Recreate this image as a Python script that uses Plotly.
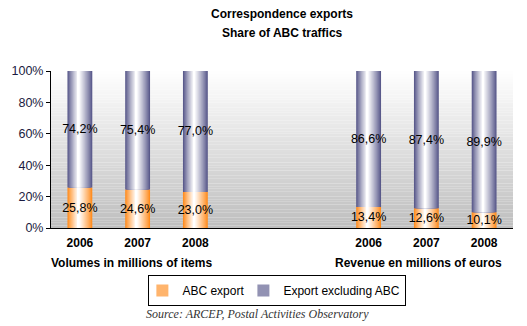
import plotly.graph_objects as go

# ---- data ----
years = ["2006", "2007", "2008", "2006", "2007", "2008"]
positions = [0, 1, 2, 5, 6, 7]          # category slots (two gap slots between groups)
abc_export = [25.8, 24.6, 23.0, 13.4, 12.6, 10.1]
export_excl_abc = [74.2, 75.4, 77.0, 86.6, 87.4, 89.9]
group_labels = ["Volumes in millions of items", "Revenue en millions of euros"]
y_ticks = [0, 20, 40, 60, 80, 100]

# ---- style ----
BAR_W = 0.43
N_LAYERS = 14
PEAK = 0.45
FONT = "Liberation Sans, Arial, sans-serif"


def mix(c1, c2, t):
    return "rgb(%d,%d,%d)" % tuple(round(a + (b - a) * t) for a, b in zip(c1, c2))


def fmt(v):
    return ("%.1f%%" % v).replace(".", ",")


fig = go.Figure()

series = [
    ("ABC export", abc_export, [0] * len(abc_export), (255, 140, 30)),
    ("Export excluding ABC", export_excl_abc, abc_export, (88, 88, 138)),
]

for name, vals, base, edge in series:
    for k in range(N_LAYERS):
        t = k / (N_LAYERS - 1)
        left = k * PEAK * BAR_W / N_LAYERS
        right = k * (1 - PEAK) * BAR_W / N_LAYERS
        width = BAR_W - left - right
        fig.add_trace(go.Bar(
            x=positions, y=vals, base=base,
            width=width, offset=-BAR_W / 2 + left,
            marker=dict(color=mix(edge, (255, 255, 255), t ** 0.9), line=dict(width=0)),
            name=name, legendgroup=name,
            showlegend=(k == 4),
            hoverinfo="skip",
        ))

# text labels (transparent bars carrying the labels)
for name, vals, base, edge in series:
    fig.add_trace(go.Bar(
        x=positions, y=vals, base=base, width=BAR_W, offset=-BAR_W / 2,
        marker=dict(color="rgba(0,0,0,0)", line=dict(width=0)),
        text=[fmt(v) for v in vals], textposition="inside",
        insidetextanchor="middle", textangle=0, constraintext="none",
        textfont=dict(family=FONT, size=12.5, color="black"),
        showlegend=False, hoverinfo="skip",
    ))

# background gradient for plot area
N_BANDS = 60
shapes = []
for i in range(N_BANDS):
    t = (i + 0.5) / N_BANDS
    shapes.append(dict(
        type="rect", xref="paper", yref="paper",
        x0=0, x1=1, y0=1 - (i + 1) / N_BANDS, y1=1 - i / N_BANDS,
        fillcolor=mix((255, 255, 255), (190, 190, 190), t),
        line=dict(width=0), layer="below",
    ))

annotations = [
    dict(text="<b>Correspondence exports</b>", xref="paper", yref="paper",
         x=0.5, y=1, yshift=57, showarrow=False, xanchor="center", yanchor="middle",
         font=dict(family=FONT, size=12, color="black")),
    dict(text="<b>Share of ABC traffics</b>", xref="paper", yref="paper",
         x=0.5, y=1, yshift=38, showarrow=False, xanchor="center", yanchor="middle",
         font=dict(family=FONT, size=12, color="black")),
    dict(text="<b>%s</b>" % group_labels[0], xref="x", yref="paper",
         x=0.9, y=0, yshift=-35, showarrow=False, xanchor="center", yanchor="middle",
         font=dict(family=FONT, size=12, color="black")),
    dict(text="<b>%s</b>" % group_labels[1], xref="x", yref="paper",
         x=5.86, y=0, yshift=-35, showarrow=False, xanchor="center", yanchor="middle",
         font=dict(family=FONT, size=12, color="black")),
    dict(text="<i>Source: ARCEP, Postal Activities Observatory</i>", xref="paper", yref="paper",
         x=0.448, y=0, yshift=-86, showarrow=False, xanchor="center", yanchor="middle",
         font=dict(family="Liberation Serif, Times New Roman, serif", size=12, color="#333333")),
]

fig.update_layout(
    width=527, height=326,
    margin=dict(l=49, r=14, t=71, b=98),
    paper_bgcolor="white", plot_bgcolor="white",
    barmode="overlay",
    shapes=shapes, annotations=annotations,
    showlegend=True,
    legend=dict(
        orientation="h", x=0.49, xanchor="center", y=-0.30, yanchor="top",
        bordercolor="black", borderwidth=1, bgcolor="white",
        font=dict(family=FONT, size=12, color="black"),
        itemwidth=30, tracegroupgap=0, indentation=-6),
    xaxis=dict(range=[-0.5, 7.5], tickvals=positions,
               ticktext=["<b>%s</b>" % y for y in years],
               tickfont=dict(family=FONT, size=12, color="black"),
               showline=True, linecolor="black", linewidth=1,
               showgrid=False, zeroline=False, ticks="", ticklabelstandoff=4,
               fixedrange=True),
    yaxis=dict(range=[0, 100], tickvals=y_ticks,
               ticktext=["%d%%" % v for v in y_ticks],
               tickfont=dict(family=FONT, size=12.5, color="#1a1a40"),
               showline=True, linecolor="black", linewidth=1,
               ticks="outside", ticklen=4, tickcolor="black",
               showgrid=False, zeroline=False, fixedrange=True),
)

fig.write_html("out.html")
